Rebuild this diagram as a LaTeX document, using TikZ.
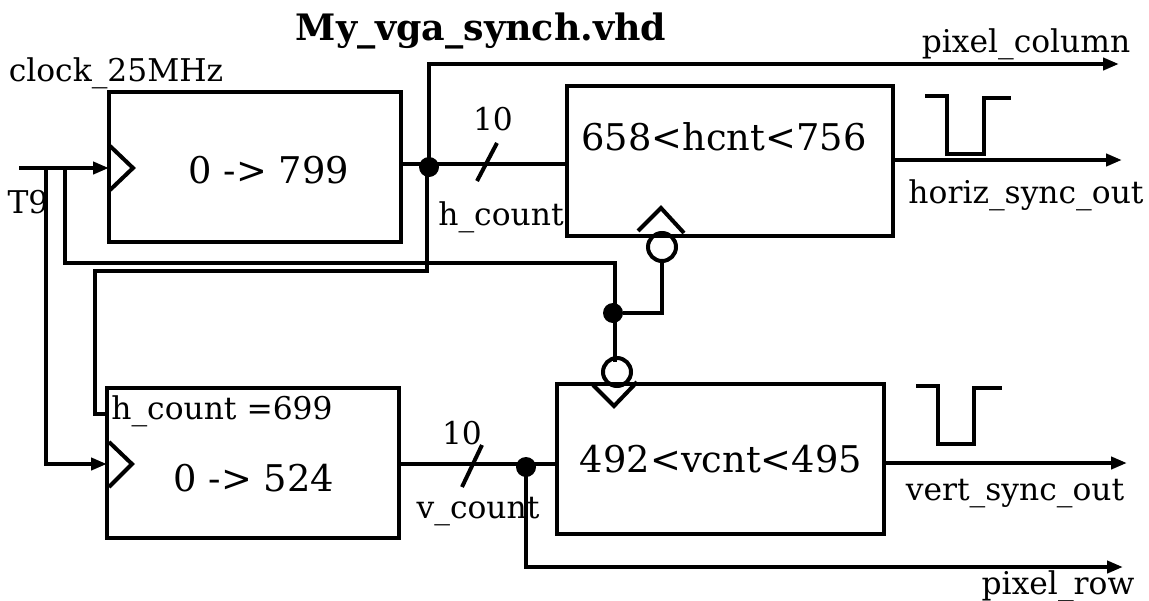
\documentclass[tikz,border=0pt]{standalone}
\usepackage{fontspec}
\setmainfont{DejaVu Serif}
\usetikzlibrary{arrows.meta}
\tikzset{
  wire/.style={line width=3pt,line join=miter},
  arrowwire/.style={wire,-{Triangle[length=12pt,width=9pt]}},
  heavyarrow/.style={line width=3.6pt,-{Triangle[length=12pt,width=9pt]}},
  blockbox/.style={draw,line width=3pt,inner sep=0pt,minimum width=#1*0.75pt},
  dot/.style={circle,fill=black,inner sep=0pt,minimum size=15pt},
  bubble/.style={circle,draw,line width=3pt,inner sep=0pt,minimum size=21pt},
  lbl/.style={anchor=base,inner sep=0pt,font=\fontsize{23.5}{26}\selectfont},
  big/.style={anchor=base,inner sep=0pt,font=\fontsize{27.6}{30}\selectfont},
  title/.style={anchor=base,inner sep=0pt,font=\fontsize{27.3}{30}\selectfont\bfseries},
}
\begin{document}
\begin{tikzpicture}[x=0.75pt,y=-0.75pt]
\useasboundingbox (0,0) rectangle (1149,600);
% blocks
\node[blockbox=292,minimum height=112.5pt] (b1) at (255,167) {};
\node[blockbox=326,minimum height=112.5pt] (b2) at (730,161) {};
\node[blockbox=292,minimum height=112.5pt] (b3) at (253,463) {};
\node[blockbox=327,minimum height=112.5pt] (b4) at (720.5,459) {};
% junctions and bubbles
\node[dot] (d1) at (429,167) {};
\node[dot] (d2) at (613,313) {};
\node[dot] (d3) at (526,467) {};
\node[bubble] (c1) at (662,247) {};
\node[bubble] (c2) at (617,372) {};
% free ends and bends
\coordinate (clkin) at (19,168);
\coordinate (t9a) at (46,168);
\coordinate (t9b) at (65,168);
\coordinate (cin1) at (109,168);
\coordinate (cin3) at (107,464);
\coordinate (pc) at (1119,64);
\coordinate (hs) at (1122,160);
\coordinate (vs) at (1127,463);
\coordinate (pr) at (1123,567);
% clock wires
\draw[heavyarrow] (clkin) -- (cin1);
\draw[arrowwire] (t9a) |- (cin3);
\draw[wire] (t9b) |- (615,263) -- (615,362);
\draw[wire] (d2) -| (c1.south);
% h count wires
\draw[wire] (b1.east |- 0,164) -- (b2.west |- 0,164);
\draw[arrowwire] (d1.center) |- (pc);
\draw[wire] (427,167) |- (95,271) |- (b3.west |- 0,414);
\draw[heavyarrow] (b2.east |- hs) -- (hs);
% v count wires
\draw[wire] (b3.east |- 0,464) -- (b4.west |- 0,464);
\draw[arrowwire] (d3.center) |- (pr);
\draw[arrowwire] (b4.east |- vs) -- (vs);
% bus slashes
\draw[wire] (477,181) -- (497,143);
\draw[wire] (462,487) -- (482,445);
% clock triangles
\draw[wire] (110,146) -- (133,168) -- (110,190);
\draw[wire] (109,442) -- (132,464) -- (109,487);
\draw[wire] (638,231) -- (661,208) -- (684,233);
\draw[wire] (593,385) -- (614,406) -- (637,382);
% pulses
\draw[wire] (925,96) -- (947,96) -- (947,154) -- (984,154) -- (984,98) -- (1011,98);
\draw[wire] (916,386) -- (938,386) -- (938,444) -- (974,444) -- (974,388) -- (1002,388);
% texts
\node[title] (ttl) at (481,40) {My\_vga\_synch.vhd};
\node[lbl] (t1) at (116,81) {clock\_25MHz};
\node[lbl] (t2) at (28,213) {T9};
\node[lbl] (t3) at (493,130) {10};
\node[lbl] (t4) at (501,225) {h\_count};
\node[lbl] (t5) at (1026,52) {pixel\_column};
\node[lbl] (t6) at (1026,203) {horiz\_sync\_out};
\node[lbl] (t7) at (222,419) {h\_count =699};
\node[lbl] (t8) at (462,444) {10};
\node[lbl] (t9) at (478,518) {v\_count};
\node[lbl] (t10) at (1015,500) {vert\_sync\_out};
\node[lbl] (t11) at (1058,594) {pixel\_row};
\node[big] (m1) at (269,183) {0 -> 799};
\node[big] (m2) at (724,150) {658<hcnt<756};
\node[big] (m3) at (254,491) {0 -> 524};
\node[big] (m4) at (721,472) {492<vcnt<495};
\end{tikzpicture}
\end{document}
